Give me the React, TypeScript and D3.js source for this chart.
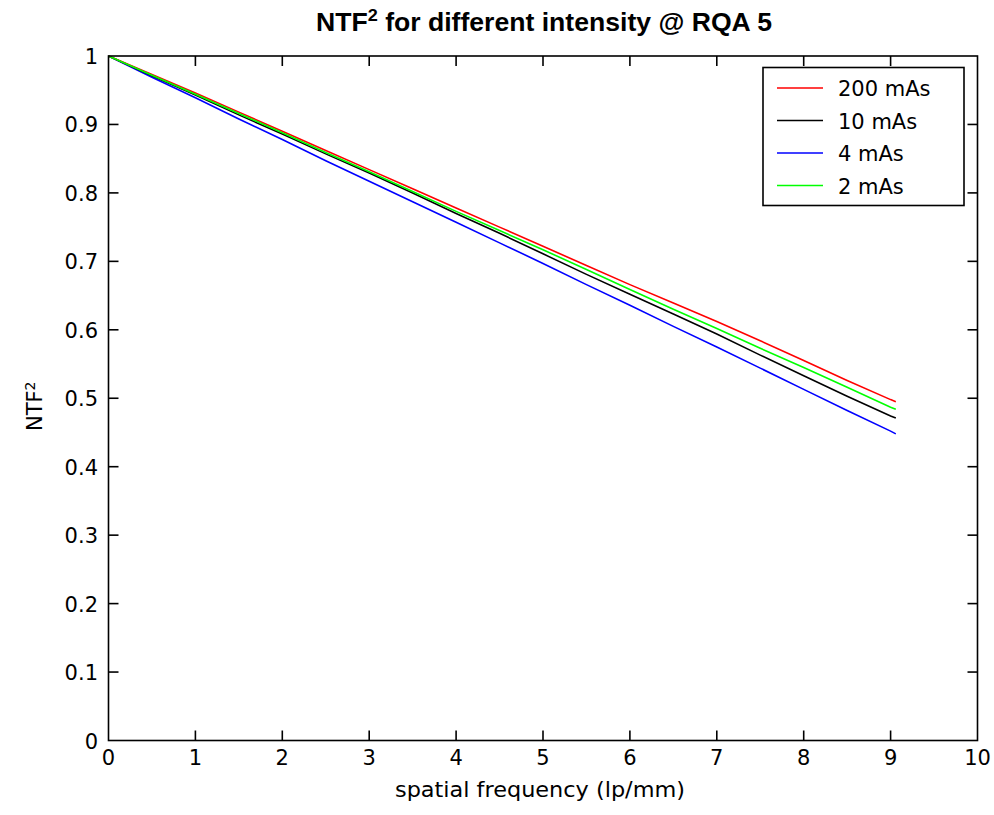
import React from "react";
import * as d3 from "d3";

const freq = [0, 0.5, 1, 1.5, 2, 2.5, 3, 3.5, 4, 4.5, 5, 5.5, 6, 6.5, 7, 7.5, 8, 8.5, 9, 9.06];
const mAs200 = [1.0, 0.973, 0.946, 0.918, 0.890, 0.862, 0.834, 0.806, 0.778, 0.750, 0.722, 0.694, 0.666, 0.639, 0.612, 0.584, 0.555, 0.526, 0.498, 0.495];
const mAs10 = [1.0, 0.971, 0.943, 0.914, 0.886, 0.857, 0.829, 0.800, 0.770, 0.741, 0.711, 0.681, 0.652, 0.623, 0.594, 0.563, 0.533, 0.503, 0.474, 0.471];
const mAs4 = [1.0, 0.969, 0.939, 0.908, 0.878, 0.847, 0.817, 0.787, 0.757, 0.727, 0.697, 0.666, 0.636, 0.605, 0.575, 0.544, 0.513, 0.482, 0.452, 0.448];
const mAs2 = [1.0, 0.972, 0.944, 0.916, 0.888, 0.859, 0.831, 0.802, 0.773, 0.745, 0.717, 0.688, 0.659, 0.630, 0.602, 0.573, 0.545, 0.516, 0.487, 0.484];

const seriesNames = ["200 mAs", "10 mAs", "4 mAs", "2 mAs"];
const seriesColors = ["#ff0000", "#000000", "#0000ff", "#00ff00"];
const seriesValues = [mAs200, mAs10, mAs4, mAs2];
const drawOrder = [2, 1, 0, 3];

const xTicks = [0, 1, 2, 3, 4, 5, 6, 7, 8, 9, 10];
const yTicks = [0, 0.1, 0.2, 0.3, 0.4, 0.5, 0.6, 0.7, 0.8, 0.9, 1];

const W = 994;
const H = 815;
const L = 108.5;
const R = 977.5;
const T = 56;
const B = 740.5;

export default function App() {
  const x = d3.scaleLinear().domain([0, 10]).range([L, R]);
  const y = d3.scaleLinear().domain([0, 1]).range([B, T]);
  const line = d3
    .line<number>()
    .x((_, i) => x(freq[i]))
    .y((d) => y(d));
  const font = "'DejaVu Sans', 'Liberation Sans', sans-serif";
  const tickLen = 10;
  const legX0 = 763;
  const legX1 = 964;
  const legY0 = 67.5;
  const legY1 = 205.5;
  const rowY = [88, 120.5, 153, 185.5];

  return (
    <svg
      width={W}
      height={H}
      style={{ position: "absolute", left: 0, top: 0, background: "#fff" }}
      fontFamily={font}
    >
      <rect x={0} y={0} width={W} height={H} fill="#fff" />
      {/* title */}
      <text
        x={316}
        y={31}
        textLength={456}
        lengthAdjust="spacingAndGlyphs"
        fontWeight="bold"
        fontSize={25}
        fontFamily="'Liberation Sans Narrow', 'Liberation Sans', Arial, sans-serif"
        fill="#000"
      >
        NTF<tspan dy={-10} fontSize={17}>2</tspan>
        <tspan dy={10}> for different intensity @ RQA 5</tspan>
      </text>

      {/* data lines */}
      {drawOrder.map((si) => (
        <path
          key={si}
          d={line(seriesValues[si]) || ""}
          fill="none"
          stroke={seriesColors[si]}
          strokeWidth={1.6}
        />
      ))}

      {/* axes box */}
      <rect x={L} y={T} width={R - L} height={B - T} fill="none" stroke="#000" strokeWidth={1.6} />

      {/* x ticks */}
      {xTicks.map((t) => (
        <g key={"x" + t}>
          {t > 0 && t < 10 && (
            <>
              <line x1={x(t)} x2={x(t)} y1={B} y2={B - tickLen} stroke="#000" strokeWidth={1.6} />
              <line x1={x(t)} x2={x(t)} y1={T} y2={T + tickLen} stroke="#000" strokeWidth={1.6} />
            </>
          )}
          <text x={x(t)} y={B + 24} textAnchor="middle" fontSize={21} fill="#000">
            {t}
          </text>
        </g>
      ))}

      {/* y ticks */}
      {yTicks.map((t) => (
        <g key={"y" + t}>
          {t > 0 && t < 1 && (
            <>
              <line x1={L} x2={L + tickLen} y1={y(t)} y2={y(t)} stroke="#000" strokeWidth={1.6} />
              <line x1={R} x2={R - tickLen} y1={y(t)} y2={y(t)} stroke="#000" strokeWidth={1.6} />
            </>
          )}
          <text x={98} y={y(t) + 8} textAnchor="end" fontSize={21} fill="#000">
            {d3.format("~g")(t)}
          </text>
        </g>
      ))}

      {/* x label */}
      <text
        x={395}
        y={797}
        textLength={290}
        lengthAdjust="spacingAndGlyphs"
        fontSize={21}
        fill="#000"
      >
        spatial frequency (lp/mm)
      </text>

      {/* y label */}
      <text
        transform={`translate(42, ${(T + B) / 2 + 8}) rotate(-90)`}
        textAnchor="middle"
        fontSize={21}
        fill="#000"
      >
        NTF<tspan dy={-7} fontSize={14}>2</tspan>
      </text>

      {/* legend */}
      <rect
        x={legX0}
        y={legY0}
        width={legX1 - legX0}
        height={legY1 - legY0}
        fill="#fff"
        stroke="#000"
        strokeWidth={1.6}
      />
      {seriesNames.map((name, i) => (
        <g key={name}>
          <line x1={777} x2={823} y1={rowY[i]} y2={rowY[i]} stroke={seriesColors[i]} strokeWidth={1.6} />
          <text x={838} y={rowY[i] + 8} fontSize={21} fill="#000">
            {name}
          </text>
        </g>
      ))}
    </svg>
  );
}
